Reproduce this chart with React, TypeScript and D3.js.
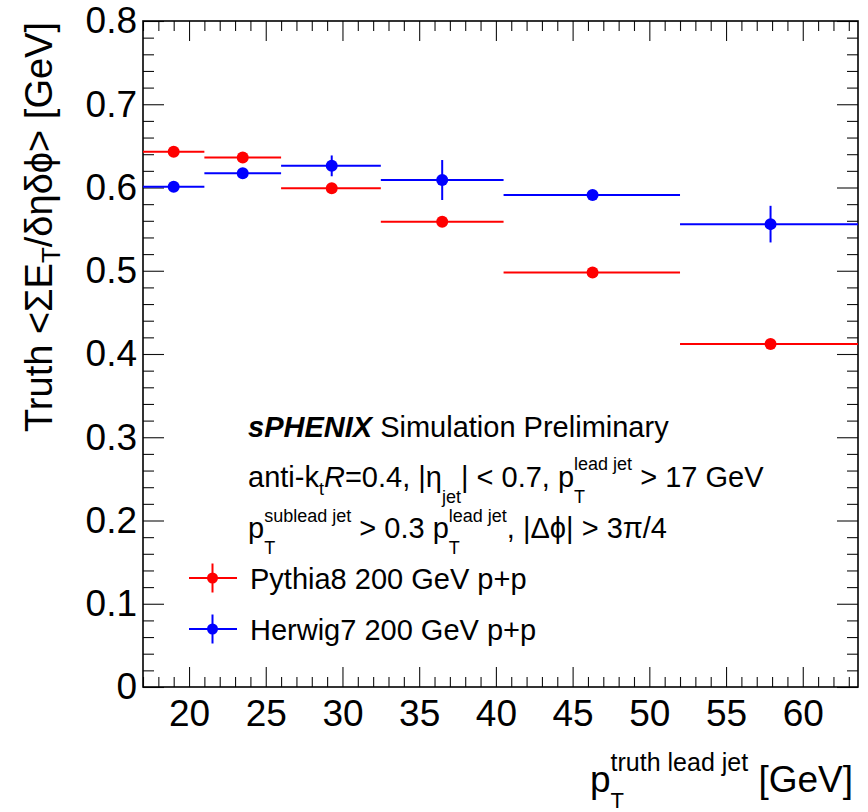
import React, { useEffect, useRef } from "react";
import * as d3 from "d3";

// bins in leading-jet truth pT
const binEdges = [17, 21, 26, 32.5, 40.5, 52, 63.6];
const binCentres = [19, 23.5, 29.3, 36.5, 46.3, 57.9];

const pythiaVals = [0.643, 0.636, 0.599, 0.559, 0.498, 0.412];
const pythiaErrs = [0.003, 0.003, 0.003, 0.003, 0.003, 0.003];
const herwigVals = [0.601, 0.617, 0.626, 0.609, 0.591, 0.556];
const herwigErrs = [0.004, 0.004, 0.0125, 0.024, 0.004, 0.022];

const xTicks = [20, 25, 30, 35, 40, 45, 50, 55, 60];
const yTicks = [0, 0.1, 0.2, 0.3, 0.4, 0.5, 0.6, 0.7, 0.8];

const FONT = "'Liberation Sans', Arial, Helvetica, sans-serif";

// lays out a run of text pieces left to right; "stack" pieces share x with the next one
const runText = (g, x0, y0, parts) => {
  let cx = x0;
  let held = 0;
  parts.forEach((p) => {
    const t = g
      .append("text")
      .attr("x", cx)
      .attr("y", y0 + (p.dy || 0))
      .attr("font-size", p.size)
      .attr("font-style", p.italic ? "italic" : null)
      .attr("font-weight", p.bold ? "bold" : null)
      .style("white-space", "pre")
      .text(p.t);
    const w = t.node().getComputedTextLength();
    if (p.stack) held = w;
    else {
      cx += Math.max(w, held);
      held = 0;
    }
  });
  return cx;
};

const App = () => {
  const svgRef = useRef(null);

  useEffect(() => {
    const svg = d3.select(svgRef.current);
    svg.selectAll("*").remove();

    const x = d3.scaleLinear().domain([17, 63.6]).range([143, 858]);
    const y = d3.scaleLinear().domain([0, 0.8]).range([687, 21]);

    const series = [
      { name: "Pythia8 200 GeV p+p", color: "#ff0000", vals: pythiaVals, errs: pythiaErrs },
      { name: "Herwig7 200 GeV p+p", color: "#0000ff", vals: herwigVals, errs: herwigErrs },
    ];

    // ticks (ROOT style, pointing inwards on all four sides)
    const xMinor = d3.range(17, 64).filter((v) => v % 5 !== 0);
    const yMinor = d3.range(0, 41).map((i) => +(i * 0.02).toFixed(2)).filter((_, i) => i % 5 !== 0);
    const fmtY = (d) => (d === 0 ? "0" : d3.format(".1f")(d));

    const axes = svg.append("g").attr("font-family", FONT);
    const addAxis = (axis, tx, ty) => {
      const g = axes.append("g").attr("transform", `translate(${tx},${ty})`).call(axis);
      g.select(".domain").remove();
      g.attr("font-family", FONT).attr("font-size", 37);
      g.selectAll("line").attr("stroke", "#111").attr("stroke-width", 1.1);
      g.selectAll("text").attr("fill", "#000");
      return g;
    };

    addAxis(d3.axisBottom(x).tickValues(xTicks).tickSize(-20).tickSizeOuter(0).tickPadding(13).tickFormat(d3.format("d")), 0, y(0));
    addAxis(d3.axisBottom(x).tickValues(xMinor).tickSize(-10).tickSizeOuter(0).tickFormat(() => ""), 0, y(0));
    addAxis(d3.axisTop(x).tickValues(xTicks).tickSize(-20).tickSizeOuter(0).tickFormat(() => ""), 0, y(0.8));
    addAxis(d3.axisTop(x).tickValues(xMinor).tickSize(-10).tickSizeOuter(0).tickFormat(() => ""), 0, y(0.8));
    addAxis(d3.axisLeft(y).tickValues(yTicks).tickSize(-21).tickSizeOuter(0).tickPadding(6).tickFormat(fmtY), x(17), 0);
    addAxis(d3.axisLeft(y).tickValues(yMinor).tickSize(-11).tickSizeOuter(0).tickFormat(() => ""), x(17), 0);
    addAxis(d3.axisRight(y).tickValues(yTicks).tickSize(-21).tickSizeOuter(0).tickFormat(() => ""), x(63.6), 0);
    addAxis(d3.axisRight(y).tickValues(yMinor).tickSize(-11).tickSizeOuter(0).tickFormat(() => ""), x(63.6), 0);

    svg
      .append("rect")
      .attr("x", x(17))
      .attr("y", y(0.8))
      .attr("width", x(63.6) - x(17))
      .attr("height", y(0) - y(0.8))
      .attr("fill", "none")
      .attr("stroke", "#000")
      .attr("stroke-width", 1.6);

    // data points with bin-width bars and stat errors
    series.forEach((s) => {
      const g = svg.append("g").attr("stroke", s.color).attr("fill", s.color);
      s.vals.forEach((v, i) => {
        g.append("line")
          .attr("x1", x(binEdges[i]))
          .attr("x2", x(binEdges[i + 1]))
          .attr("y1", y(v))
          .attr("y2", y(v))
          .attr("stroke-width", 2);
        g.append("line")
          .attr("x1", x(binCentres[i]))
          .attr("x2", x(binCentres[i]))
          .attr("y1", y(v - s.errs[i]))
          .attr("y2", y(v + s.errs[i]))
          .attr("stroke-width", 2);
        g.append("circle").attr("cx", x(binCentres[i])).attr("cy", y(v)).attr("r", 6).attr("stroke", "none");
      });
    });

    // labels block
    const txt = svg.append("g").attr("font-family", FONT).attr("fill", "#000");
    const F = 29;
    const f = 18;
    runText(txt, 248, 437, [
      { t: "sPHENIX", size: F, bold: true, italic: true },
      { t: " Simulation Preliminary", size: F },
    ]);
    runText(txt, 248, 487, [
      { t: "anti-k", size: F },
      { t: "t", size: f, dy: 8 },
      { t: "R", size: F, italic: true },
      { t: "=0.4, |η", size: F },
      { t: "jet", size: f, dy: 16 },
      { t: "| < 0.7, p", size: F },
      { t: "T", size: f, dy: 16, stack: true },
      { t: "lead jet", size: f, dy: -17 },
      { t: " > 17 GeV", size: F },
    ]);
    runText(txt, 248, 538, [
      { t: "p", size: F },
      { t: "T", size: f, dy: 16, stack: true },
      { t: "sublead jet", size: f, dy: -16 },
      { t: " > 0.3 p", size: F },
      { t: "T", size: f, dy: 16, stack: true },
      { t: "lead jet", size: f, dy: -16 },
      { t: ", |Δϕ| > 3π/4", size: F },
    ]);

    // legend
    const legY = [578, 629];
    series.forEach((s, i) => {
      const g = svg.append("g").attr("stroke", s.color).attr("fill", s.color);
      g.append("line").attr("x1", 189).attr("x2", 237).attr("y1", legY[i]).attr("y2", legY[i]).attr("stroke-width", 2);
      g.append("line").attr("x1", 212.5).attr("x2", 212.5).attr("y1", legY[i] - 14.5).attr("y2", legY[i] + 14.5).attr("stroke-width", 2);
      g.append("circle").attr("cx", 212.5).attr("cy", legY[i]).attr("r", 5.5).attr("stroke", "none");
      runText(txt, 250, legY[i] + 11, [{ t: s.name, size: F }]);
    });

    // axis titles
    runText(txt, 590, 792, [
      { t: "p", size: 37 },
      { t: "T", size: 22, dy: 16, stack: true },
      { t: "truth lead jet", size: 25, dy: -21 },
      { t: " [GeV]", size: 37 },
    ]);

    const yt = txt
      .append("text")
      .attr("transform", "translate(52,22) rotate(-90)")
      .attr("text-anchor", "end")
      .attr("font-size", 38)
      .style("white-space", "pre");
    yt.append("tspan").text("Truth <ΣE");
    yt.append("tspan").attr("font-size", 26).attr("dy", 8).text("T");
    yt.append("tspan").attr("dy", -8).text("/δηδϕ> [GeV]");
  }, []);

  return (
    <svg
      ref={svgRef}
      width={868}
      height={812}
      style={{ position: "absolute", left: 0, top: 0, background: "#fff" }}
    />
  );
};

export default App;
